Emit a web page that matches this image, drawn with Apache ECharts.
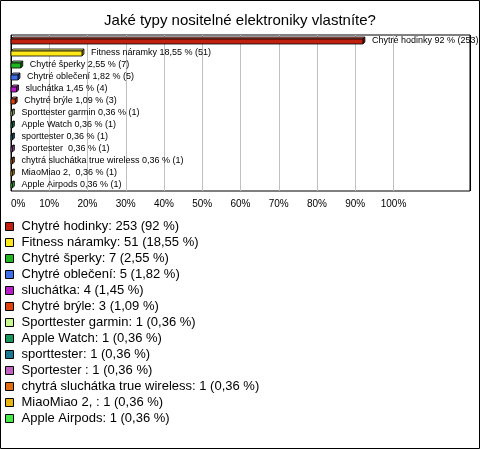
<!DOCTYPE html>
<html>
<head>
<meta charset="utf-8">
<script src="https://cdn.jsdelivr.net/npm/echarts@6/dist/echarts.min.js"></script>
<style>
html,body{margin:0;padding:0;background:#fff;}
#chart{width:480px;height:449px;}
</style>
</head>
<body>
<div id="chart"></div>
<script>
const titleText = 'Jaké typy nositelné elektroniky vlastníte?';
const categories = ['Chytré hodinky','Fitness náramky','Chytré šperky','Chytré oblečení','sluchátka','Chytré brýle','Sporttester garmin','Apple Watch','sporttester','Sportester ','chytrá sluchátka true wireless','MiaoMiao 2, ','Apple Airpods'];
const percents = [92, 18.55, 2.55, 1.82, 1.45, 1.09, 0.36, 0.36, 0.36, 0.36, 0.36, 0.36, 0.36];
const counts = [253, 51, 7, 5, 4, 3, 1, 1, 1, 1, 1, 1, 1];
const colors = ['#c0200f','#ffe81a','#1fb51f','#3f6fe8','#b81cc8','#e0420e','#c8f890','#16955a','#1c7890','#c060c0','#e06c10','#e8b410','#44e844'];
const tickValues = [0,10,20,30,40,50,60,70,80,90,100];

const FONT = 'Liberation Sans, Arial, sans-serif';
const fmt = p => String(p).replace('.', ',');

function mix(hex, target, t){
  const h = hex.replace('#','');
  const r = parseInt(h.substr(0,2),16), g = parseInt(h.substr(2,2),16), b = parseInt(h.substr(4,2),16);
  const m = c => Math.round(c + (target - c) * t);
  return 'rgb(' + m(r) + ',' + m(g) + ',' + m(b) + ')';
}

function renderItem(params, api){
  const v = api.value(0), c = api.value(1);
  const s = api.coord([0, c]);
  const e = api.coord([v, c]);
  const color = colors[params.seriesIndex];
  const d = 2;
  const x0 = s[0], x1 = e[0];
  const yc = Math.round(s[1]);
  const yt = yc - 2, yb = yc + 3;
  const i = params.seriesIndex;
  const label = categories[i] + ' ' + fmt(percents[i]) + ' % (' + counts[i] + ')';
  return {
    type: 'group',
    children: [
      {type:'polygon', shape:{points:[[x0,yt],[x0+d,yt-d],[x1+d,yt-d],[x1,yt]]}, style:{fill:mix(color,255,0.35), stroke:'#000', lineWidth:0.8}},
      {type:'polygon', shape:{points:[[x1,yt],[x1+d,yt-d],[x1+d,yb-d],[x1,yb]]}, style:{fill:mix(color,0,0.35), stroke:'#000', lineWidth:0.8}},
      {type:'rect', shape:{x:x0, y:yt, width:x1-x0, height:yb-yt}, style:{fill:color, stroke:'#000', lineWidth:0.8}},
      {type:'text', x: x1 + d + 7, y: yc, style:{text: label, fill:'#000', font: '9px ' + FONT, align:'left', verticalAlign:'middle'}}
    ]
  };
}

const gridLineColors = tickValues.map((t, k) => k === 0 ? '#000' : '#c0c0c0').concat(['rgba(0,0,0,0)', '#000']);

const series = categories.map((name, i) => ({
  type: 'custom',
  name: name,
  coordinateSystem: 'cartesian2d',
  renderItem: renderItem,
  itemStyle: {color: colors[i]},
  encode: {x: 0, y: 1},
  data: [[percents[i], i]],
  clip: false,
  silent: true
}));

const chart = echarts.init(document.getElementById('chart'), null, {renderer: 'canvas'});
chart.setOption({
  animation: false,
  backgroundColor: '#fff',
  textStyle: {fontFamily: FONT},
  title: {
    text: titleText, left: 'center', top: 8,
    textStyle: {fontSize: 15, fontWeight: 'normal', color: '#000', fontFamily: FONT}
  },
  grid: {left: 11, right: 10, top: 35, bottom: 258, show: true, borderColor: '#000', borderWidth: 1, backgroundColor: '#fff'},
  xAxis: {
    type: 'value', min: 0, max: 120, interval: 10,
    axisLine: {show: false}, axisTick: {show: false},
    splitLine: {show: true, lineStyle: {color: gridLineColors, width: 1}},
    axisLabel: {
      color: '#000', fontSize: 10, fontFamily: FONT, margin: 8,
      alignMinLabel: 'left',
      formatter: v => v <= 100 ? v + '%' : ''
    }
  },
  yAxis: {
    type: 'category', data: categories, inverse: true,
    axisLine: {show: false}, axisTick: {show: false}, axisLabel: {show: false}, splitLine: {show: false}
  },
  legend: {
    orient: 'vertical', left: 5, top: 220, padding: 0, icon: 'rect',
    itemWidth: 8, itemHeight: 8, itemGap: 3,
    itemStyle: {borderColor: '#000', borderWidth: 1},
    data: categories,
    selectedMode: false,
    textStyle: {fontSize: 13, color: '#000', fontFamily: FONT, lineHeight: 13, padding: [0,0,0,3]},
    formatter: name => {
      const i = categories.indexOf(name);
      return name + ': ' + counts[i] + ' (' + fmt(percents[i]) + ' %)';
    }
  },
  graphic: [{
    type: 'rect', z: 100, silent: true,
    shape: {x: 0.5, y: 0.5, width: 479, height: 448},
    style: {fill: 'none', stroke: '#000', lineWidth: 1}
  }],
  series: series
});
</script>
</body>
</html>
